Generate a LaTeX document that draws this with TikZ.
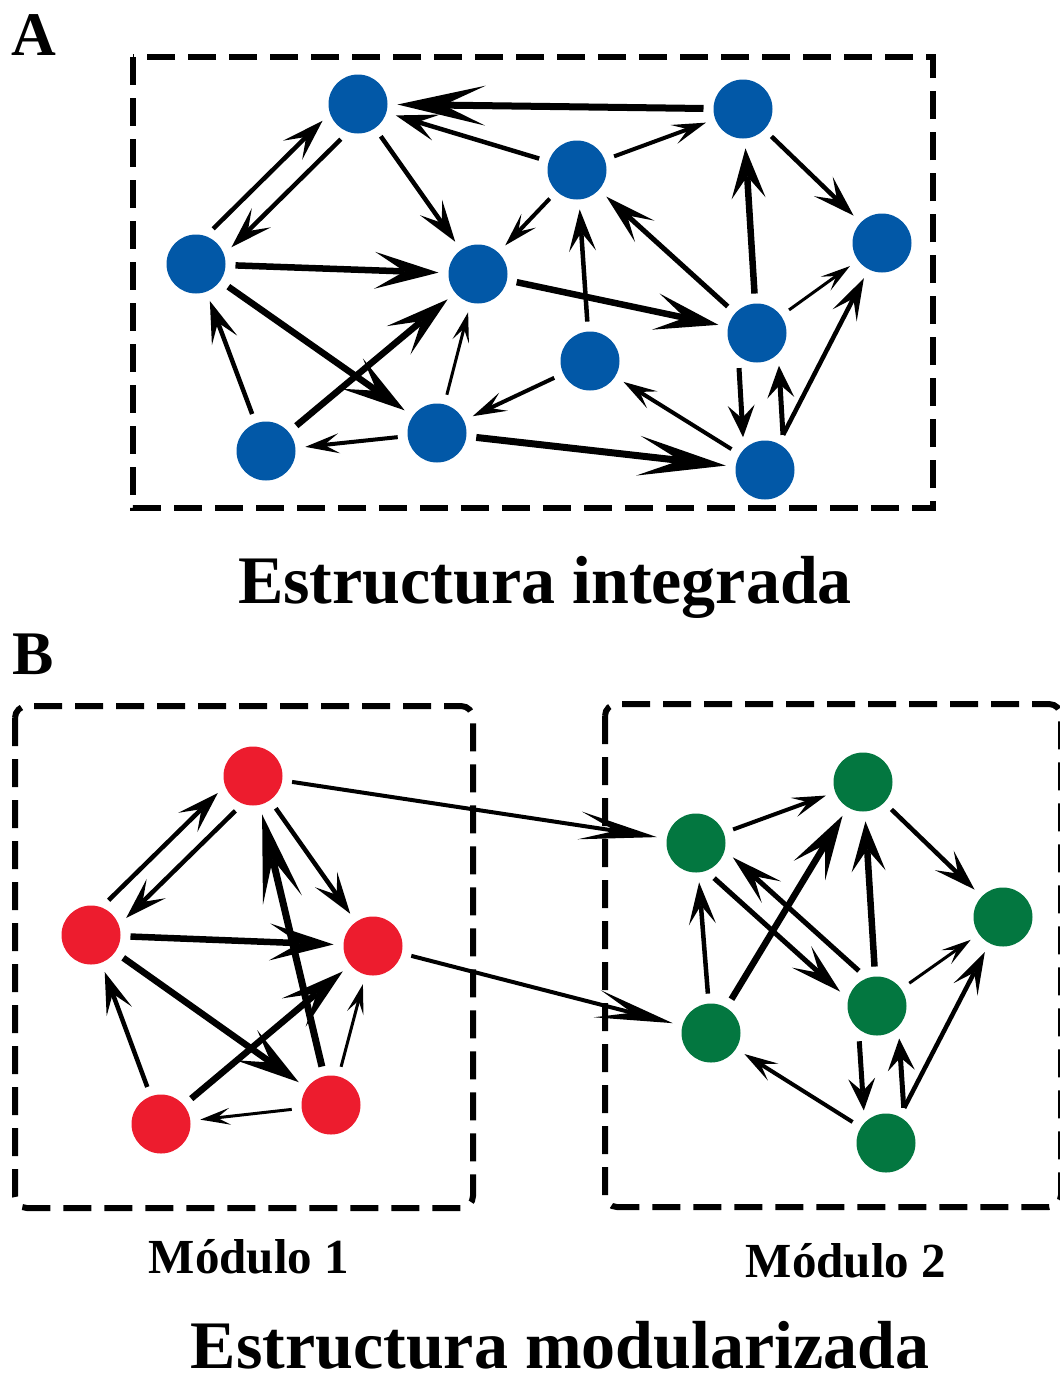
\documentclass[tikz,border=0pt]{standalone}
\usepackage{fontspec}
\setmainfont{Liberation Serif}
\usetikzlibrary{arrows.meta,calc}

\definecolor{nodeblue}{RGB}{2,88,167}
\definecolor{nodered}{RGB}{237,28,46}
\definecolor{nodegreen}{RGB}{3,119,64}

\begin{document}
\begin{tikzpicture}[x=1pt,y=-1pt,
  dot/.style={circle,minimum size=59pt,inner sep=0pt,outer sep=10pt},
  bdot/.style={dot,fill=nodeblue},
  rdot/.style={dot,fill=nodered},
  gdot/.style={dot,fill=nodegreen},
  frame/.style={line width=6pt,dash pattern=on 28pt off 13pt},
  hvy/.style={line width=7pt,-{Stealth[length=88pt,width=40pt,inset=42pt,line width=0pt]}},
  bld/.style={line width=6.5pt,-{Stealth[length=64pt,width=37pt,inset=30pt,line width=0pt]}},
  bls/.style={line width=6.5pt,-{Stealth[length=50pt,width=34pt,inset=22pt,line width=0pt]}},
  mdx/.style={line width=5pt,-{Stealth[length=52pt,width=29pt,inset=24pt,line width=0pt]}},
  med/.style={line width=4.5pt,-{Stealth[length=42pt,width=27pt,inset=19pt,line width=0pt]}},
  stb/.style={line width=5pt,-{Stealth[length=32pt,width=27pt,inset=13pt,line width=0pt]}},
  sml/.style={line width=4pt,-{Stealth[length=34pt,width=20pt,inset=15pt,line width=0pt]}},
  lgt/.style={line width=3pt,-{Stealth[length=30pt,width=17pt,inset=13pt,line width=0pt]}},
  lng/.style={line width=4pt,-{Stealth[length=78pt,width=28pt,inset=36pt,line width=0pt]}},
  pr/.style={shorten <=37pt,shorten >=37pt},
  prw/.style={shorten <=34pt,shorten >=34pt},
  tag/.style={font=\bfseries\fontsize{62}{64}\selectfont,anchor=base,inner sep=0pt},
  ttl/.style={font=\bfseries\fontsize{68}{70}\selectfont,anchor=base,inner sep=0pt},
  sub/.style={font=\bfseries\fontsize{49}{51}\selectfont,anchor=base,inner sep=0pt}]
\useasboundingbox (0,0) rectangle (1060,1382);

% panel A
\draw[frame] (133,57) rectangle (933,508);
\node[bdot] (a1) at (358,104) {};
\node[bdot] (a2) at (743,109) {};
\node[bdot] (a3) at (577,170) {};
\node[bdot] (a4) at (196,264) {};
\node[bdot] (a5) at (478,274) {};
\node[bdot] (a6) at (882,243) {};
\node[bdot] (a7) at (757,333) {};
\node[bdot] (a8) at (590,361) {};
\node[bdot] (a9) at (266,451) {};
\node[bdot] (a10) at (437,433) {};
\node[bdot] (a11) at (765,470) {};

\draw[hvy] (a2) -- (a1);
\draw[med,pr] ($(a4)!13pt!90:(a1)$) -- ($(a1)!13pt!-90:(a4)$);
\draw[med,pr] ($(a1)!13pt!90:(a4)$) -- ($(a4)!13pt!-90:(a1)$);
\draw[med] (a1) -- (a5);
\draw[med] (a3) -- (a1);
\draw[sml] (a3) -- (a2);
\draw[sml] (a3) -- (a5);
\draw[bld] (a4) -- (a5);
\draw[bld] (a4) -- (a10);
\draw[bld] (a9) -- (a5);
\draw[med] (a9) -- (a4);
\draw[sml] (a10) -- (a9);
\draw[lgt] (a10) -- (a5);
\draw[med] (a8) -- (a3);
\draw[sml] (a8) -- (a10);
\draw[bld] (a5) -- (a7);
\draw[mdx] (a7) -- (a3);
\draw[bls] (a7) -- (a2);
\draw[med] (a2) -- (a6);
\draw[lgt] (a7) -- (a6);
\draw[med] (a11) -- (a6);
\draw[stb,prw] ($(a7)!20pt!-90:(a11)$) -- ($(a11)!20pt!90:(a7)$);
\draw[stb,prw] ($(a11)!20pt!-90:(a7)$) -- ($(a7)!20pt!90:(a11)$);
\draw[sml] (a11) -- (a8);
\draw[hvy] (a10) -- (a11);

\node[tag] (labA) at (34,55) {A};
\node[ttl] (titA) at (545,603) {Estructura integrada};

% panel B
\node[tag] (labB) at (33,674) {B};
\draw[frame,rounded corners=12pt] (15,706) rectangle (473,1208);
\draw[frame,rounded corners=12pt] (605,704) rectangle (1061,1207);

\node[rdot] (r1) at (253,776) {};
\node[rdot] (r2) at (91,935) {};
\node[rdot] (r3) at (373,946) {};
\node[rdot] (r4) at (331,1105) {};
\node[rdot] (r5) at (161,1124) {};

\node[gdot] (g1) at (696,843) {};
\node[gdot] (g2) at (863,782) {};
\node[gdot] (g3) at (1003,917) {};
\node[gdot] (g4) at (711,1033) {};
\node[gdot] (g5) at (877,1006) {};
\node[gdot] (g6) at (886,1143) {};

\draw[med,pr] ($(r2)!12.5pt!90:(r1)$) -- ($(r1)!12.5pt!-90:(r2)$);
\draw[med,pr] ($(r1)!12.5pt!90:(r2)$) -- ($(r2)!12.5pt!-90:(r1)$);
\draw[med] (r1) -- (r3);
\draw[hvy] (r4) -- (r1);
\draw[bld] (r2) -- (r3);
\draw[bld] (r2) -- (r4);
\draw[bld] (r5) -- (r3);
\draw[med] (r5) -- (r2);
\draw[lgt] (r4) -- (r5);
\draw[lgt] (r4) -- (r3);

\draw[lng] (r1) -- (g1);
\draw[lng] (r3) -- (g4);

\draw[sml] (g1) -- (g2);
\draw[med] (g4) -- (g1);
\draw[bld] (g4) -- (g2);
\draw[mdx,pr] ($(g1)!14pt!-90:(g5)$) -- ($(g5)!14pt!90:(g1)$);
\draw[mdx,pr] ($(g5)!14pt!-90:(g1)$) -- ($(g1)!14pt!90:(g5)$);
\draw[bls] (g5) -- (g2);
\draw[med] (g2) -- (g3);
\draw[lgt] (g5) -- (g3);
\draw[med] (g6) -- (g3);
\draw[sml] (g6) -- (g4);
\draw[stb,prw] ($(g5)!20pt!-90:(g6)$) -- ($(g6)!20pt!90:(g5)$);
\draw[stb,prw] ($(g6)!20pt!-90:(g5)$) -- ($(g5)!20pt!90:(g6)$);

\node[sub] (mod1) at (249,1273) {Módulo 1};
\node[sub] (mod2) at (846,1277) {Módulo 2};
\node[ttl] (titB) at (560,1368) {Estructura modularizada};
\end{tikzpicture}
\end{document}
